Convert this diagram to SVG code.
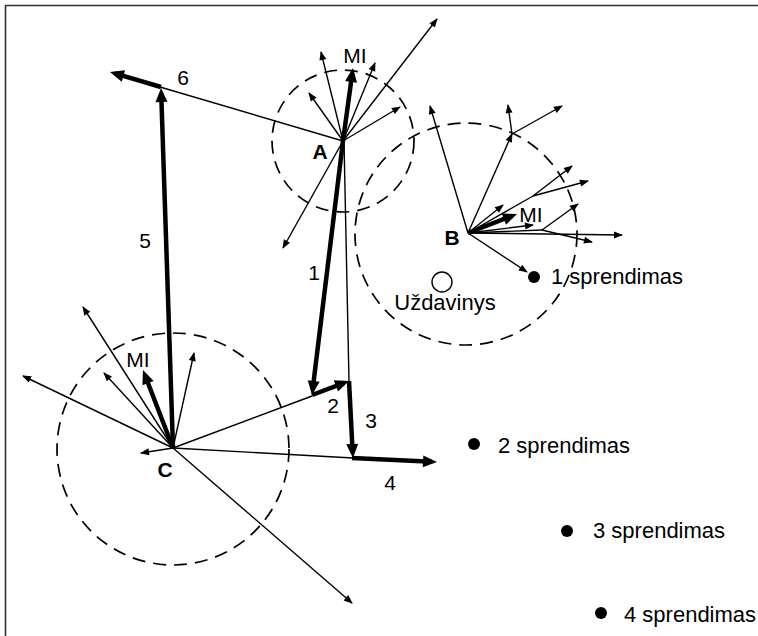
<svg xmlns="http://www.w3.org/2000/svg" width="758" height="636" viewBox="0 0 758 636">
<defs>
<marker id="h" markerUnits="userSpaceOnUse" markerWidth="10" markerHeight="7" refX="8" refY="3.5" orient="auto" overflow="visible">
<path d="M0,0 L9,3.5 L0,7 z" fill="#000"/>
</marker>
<marker id="H" markerUnits="userSpaceOnUse" markerWidth="14" markerHeight="12" refX="9" refY="6" orient="auto" overflow="visible">
<path d="M0,0 L14,6 L0,12 z" fill="#000"/>
</marker>
<style>
.t{stroke:#000;stroke-width:1.4;fill:none}
.ta{stroke:#000;stroke-width:1.4;fill:none;marker-end:url(#h)}
.k{stroke:#000;stroke-width:4.5;fill:none;marker-end:url(#H)}
.d{stroke:#000;stroke-width:1.7;fill:none;stroke-dasharray:13 8}
text{font-family:"Liberation Sans",Arial,sans-serif;fill:#000}
.lb{font-size:21px}
.sp{font-size:22px}
.bd{font-size:21px;font-weight:bold}
</style>
</defs>
<rect width="758" height="636" fill="#fff"/>
<g id="frame" stroke="#333" stroke-width="1.6">
<line x1="5" y1="5.5" x2="758" y2="5.5"/>
<line x1="5.5" y1="5" x2="5.5" y2="636"/>
</g>

<g id="nodeA">
<circle class="d" cx="343" cy="141" r="71"/>
<text class="bd" x="320" y="159" text-anchor="middle">A</text>
<text class="lb" x="355" y="63" text-anchor="middle">MI</text>
</g>
<g id="nodeB">
<circle class="d" cx="466" cy="234" r="111"/>
<text class="bd" x="452" y="245" text-anchor="middle">B</text>
<text class="lb" x="531" y="222" text-anchor="middle">MI</text>
</g>
<g id="nodeC">
<circle class="d" cx="173" cy="449" r="116"/>
<text class="bd" x="165" y="477" text-anchor="middle">C</text>
<text class="lb" x="138" y="367" text-anchor="middle">MI</text>
</g>
<g id="uzdavinys">
<circle cx="442" cy="282" r="10" fill="#fff" stroke="#000" stroke-width="1.4"/>
<text class="sp" x="445" y="310" text-anchor="middle">Uždavinys</text>
</g>
<g id="s1">
<circle cx="534" cy="277" r="6" fill="#000"/>
<text class="sp" x="551" y="284">1 sprendimas</text>
</g>
<g id="s2">
<circle cx="474" cy="444" r="6" fill="#000"/>
<text class="sp" x="498" y="453">2 sprendimas</text>
</g>
<g id="s3">
<circle cx="567" cy="531" r="6" fill="#000"/>
<text class="sp" x="593" y="538">3 sprendimas</text>
</g>
<g id="s4">
<circle cx="601" cy="613" r="6" fill="#000"/>
<text class="sp" x="624" y="622">4 sprendimas</text>
</g>

<g id="connectors">
<line class="ta" x1="343" y1="141" x2="321" y2="52"/>
<line class="ta" x1="343" y1="141" x2="309" y2="93"/>
<line class="ta" x1="343" y1="141" x2="375" y2="63"/>
<line class="ta" x1="343" y1="141" x2="400" y2="107"/>
<line class="ta" x1="343" y1="141" x2="437" y2="19"/>
<line class="ta" x1="343" y1="141" x2="283" y2="248"/>
<line class="t" x1="343" y1="141" x2="160" y2="87"/>
<line class="t" x1="344" y1="141" x2="349" y2="381"/>
<line class="k" x1="343" y1="141" x2="352.3" y2="73"/>
<line class="k" x1="343" y1="141" x2="312.6" y2="390"/>
<line class="ta" x1="468" y1="233" x2="430" y2="106"/>
<line class="ta" x1="468" y1="233" x2="512" y2="134"/>
<line class="ta" x1="512" y1="134" x2="508" y2="105"/>
<line class="ta" x1="512" y1="134" x2="562" y2="106"/>
<line class="t" x1="468" y1="233" x2="533" y2="196"/>
<line class="ta" x1="533" y1="196" x2="572" y2="166"/>
<line class="ta" x1="533" y1="196" x2="588" y2="181"/>
<line class="ta" x1="468" y1="233" x2="503" y2="205"/>
<line class="ta" x1="468" y1="233" x2="533" y2="225"/>
<line class="t" x1="468" y1="233" x2="542" y2="230"/>
<line class="ta" x1="542" y1="230" x2="578" y2="204"/>
<line class="ta" x1="542" y1="230" x2="592" y2="242"/>
<line class="ta" x1="468" y1="233" x2="622" y2="235"/>
<line class="ta" x1="468" y1="233" x2="527" y2="272"/>
<line class="k" x1="468" y1="233" x2="512.3" y2="215.8"/>
<line class="ta" x1="173" y1="448" x2="23" y2="376"/>
<line class="ta" x1="173" y1="448" x2="83" y2="307"/>
<line class="ta" x1="173" y1="448" x2="104" y2="373"/>
<line class="ta" x1="173" y1="448" x2="194" y2="353"/>
<line class="ta" x1="173" y1="448" x2="141" y2="453"/>
<line class="ta" x1="173" y1="448" x2="352" y2="603"/>
<line class="t" x1="173" y1="448" x2="312" y2="396"/>
<line class="t" x1="173" y1="448" x2="353" y2="458"/>
<line class="k" x1="173" y1="448" x2="144.8" y2="374.7"/>
<line class="k" x1="312" y1="395" x2="344.3" y2="382.8"/>
<line class="k" x1="349" y1="381" x2="352.7" y2="453"/>
<line class="k" x1="352" y1="458" x2="432" y2="461.8"/>
<line class="k" x1="173" y1="448" x2="161.2" y2="93"/>
<line class="k" x1="161" y1="87" x2="114.8" y2="73.4"/>
<text class="lb" x="183" y="85" text-anchor="middle">6</text>
<text class="lb" x="145" y="248" text-anchor="middle">5</text>
<text class="lb" x="314" y="280" text-anchor="middle">1</text>
<text class="lb" x="333" y="413" text-anchor="middle">2</text>
<text class="lb" x="371" y="428" text-anchor="middle">3</text>
<text class="lb" x="390" y="490" text-anchor="middle">4</text>
</g>
</svg>
